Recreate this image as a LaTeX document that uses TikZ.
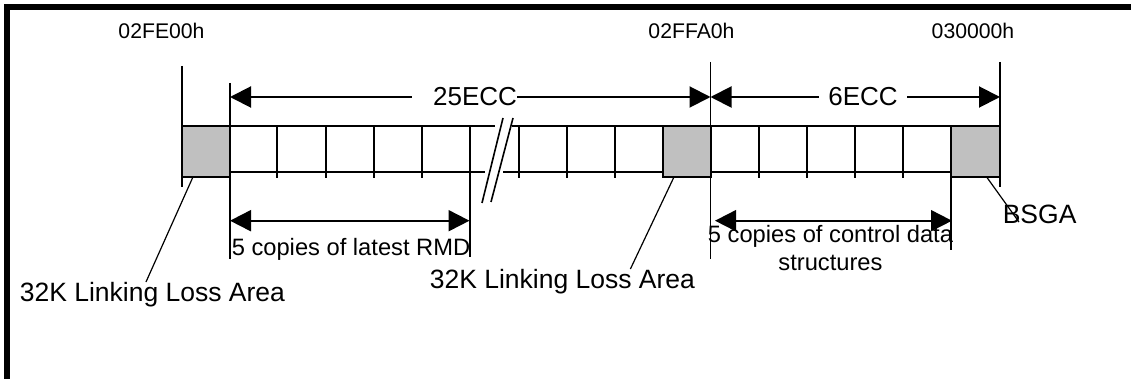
\documentclass[tikz,border=0pt]{standalone}
\usepackage{fontspec}
\setmainfont{Liberation Sans}
\usetikzlibrary{arrows.meta,calc}

\definecolor{llgray}{HTML}{C0C0C0}
\newcommand{\addrfont}{\fontsize{10.6}{12}\selectfont}
\newcommand{\eccfont}{\fontsize{13}{15}\selectfont}
\newcommand{\copyfont}{\fontsize{11.85}{14}\selectfont}
\newcommand{\areafont}{\fontsize{13.25}{15}\selectfont}

\begin{document}
\begin{tikzpicture}[x=0.5pt,y=-0.5pt,line width=0.8pt]
  \tikzstyle{every node}=[inner sep=0pt]
  \tikzstyle{lla}=[draw,fill=llgray,minimum width=24pt,minimum height=25.5pt]
  \tikzstyle{dimline}=[line width=1pt,{Triangle[length=10.5pt,width=10.5pt]}-{Triangle[length=10.5pt,width=10.5pt]}]
  \tikzstyle{gap}=[fill=white,inner ysep=2pt,font=\eccfont]
  \tikzstyle{addr}=[font=\addrfont,anchor=base]
  \tikzstyle{area}=[font=\areafont,anchor=base west]
  \tikzstyle{copies}=[font=\copyfont]
  \tikzstyle{leader}=[line width=0.6pt]

  \useasboundingbox (0,0) rectangle (1131,379);

  % frame
  \draw[line width=3pt] (6.7,379) -- (6.7,7.3) -- (1131,7.3);

  % the strip of ECC blocks
  \draw[line width=0.9pt] (182,126) -- (495,126) (512,126) -- (1000,126);
  \draw[line width=0.9pt] (230,172) -- (485,172) (503,172) -- (663,172)
                          (711,172) -- (951,172);
  \foreach \x in {277,326,374,422,519,567,615,759,807,855,903}
    \draw (\x,126) -- (\x,178);
  \draw (482,203) -- (503,118);
  \draw (491,202) -- (513,118);

  \node[lla] (lla1)    at (206,151.5)   {};
  \node[lla] (lla2)    at (687,151.5)   {};
  \node[lla] (bsgabox) at (975.5,151.5) {};

  % boundaries
  \coordinate (fe0t) at (182,66);    \coordinate (fe0b) at (182,187);
  \coordinate (s25t) at (230,83);    \coordinate (s25b) at (230,259);
  \coordinate (fa0t) at (710.5,62);  \coordinate (fa0b) at (710.5,259);
  \coordinate (e00t) at (1000,62);   \coordinate (e00b) at (1000,187);
  \coordinate (rmdt) at (470,126);   \coordinate (rmdb) at (470,257);
  \coordinate (ctlt) at (951,126);   \coordinate (ctlb) at (951,250);

  \draw (fe0t) -- (fe0b);
  \draw (s25t) -- (s25b);
  \draw (fa0t) -- (fa0b);
  \draw (e00t) -- (e00b);
  \draw (rmdt) -- (rmdb);
  \draw (ctlt) -- (ctlb);

  % sizes
  \coordinate (a25l) at (230,97);
  \coordinate (a25r) at (710.5,97);
  \coordinate (a6r)  at (1000,97);
  \coordinate (rmdl) at (230,220.7);
  \coordinate (rmdr) at (469.5,220.7);
  \coordinate (ctll) at (715,220.7);
  \coordinate (ctlr) at (952,220.7);

  \draw[dimline] (a25l) -- node[gap,text width=52.5pt,align=right,pos=0.488] (ecc25) {25ECC} (a25r);
  \draw[dimline] (a25r) -- node[gap,inner xsep=4.75pt,pos=0.527] (ecc6) {6ECC} (a6r);
  \draw[dimline] (rmdl) -- (rmdr);
  \draw[dimline] (ctll) -- (ctlr);

  % labels
  \node[addr] (fe0) at (161.5,39) {02FE00h};
  \node[addr] (fa0) at (691.5,39) {02FFA0h};
  \node[addr] (e00) at (973,39)   {030000h};

  \node[copies,anchor=base west] (rmd) at (231,256) {5 copies of latest RMD};
  \node[copies,align=center,anchor=north] (ctl) at (830.5,224.5) {5 copies of control data\\structures};

  \node[area] (area1) at (19,302)   {32K Linking Loss Area};
  \node[area] (area2) at (429,289)  {32K Linking Loss Area};
  \node[area] (bsga)  at (1002,224) {BSGA};

  \draw[leader] (lla1.243)    -- ($(area1.north west)!0.476!(area1.north east)$);
  \draw[leader] (lla2.243)    -- ($(area2.north west)!0.755!(area2.north east)$);
  \draw[leader] (bsgabox.294) -- ($(bsga.south west)+(17,-3)$);
\end{tikzpicture}
\end{document}
